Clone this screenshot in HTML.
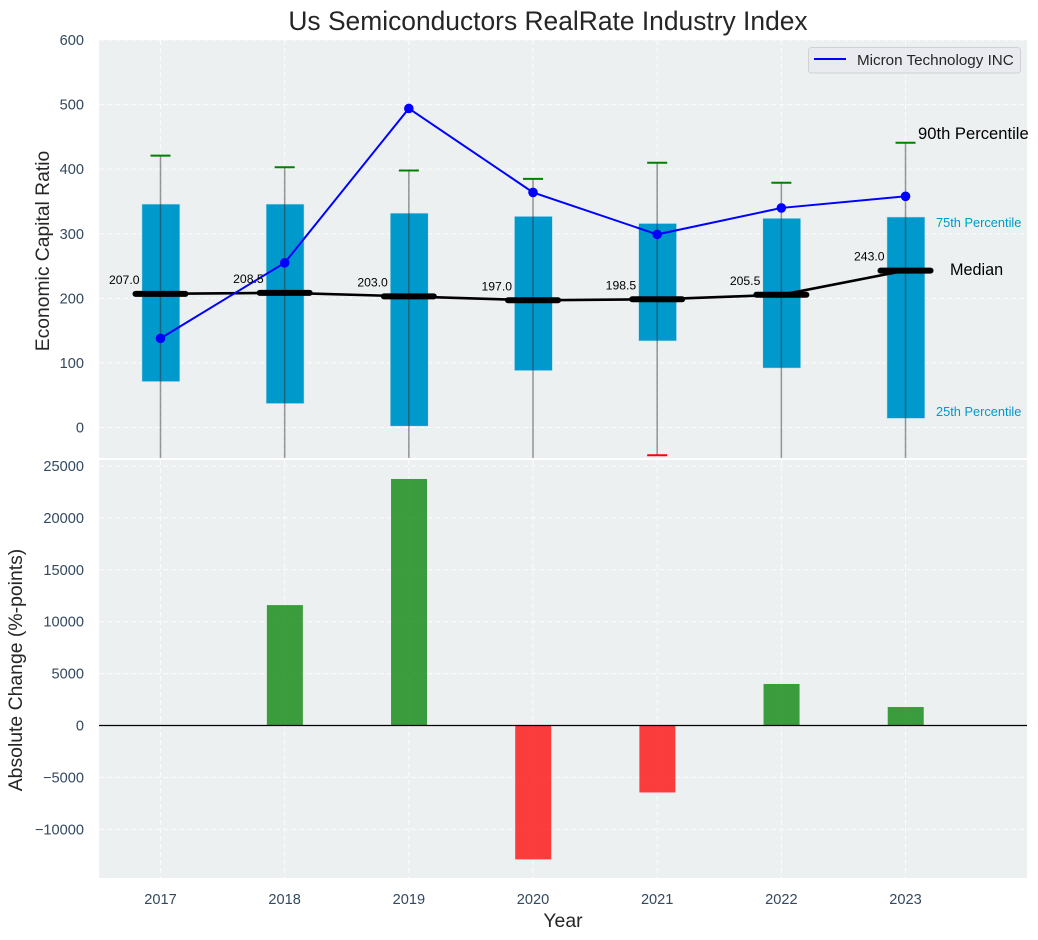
<!DOCTYPE html>
<html lang="en">
<head>
<meta charset="utf-8">
<title>Us Semiconductors RealRate Industry Index</title>
<style>
html,body{margin:0;padding:0;background:#fff;width:1038px;height:940px;overflow:hidden}
svg{display:block;font-family:"Liberation Sans",Arial,sans-serif}
</style>
</head>
<body>
<svg id="chart" xmlns="http://www.w3.org/2000/svg" width="1038" height="940" viewBox="0 0 1038 940">
  <defs>
    <clipPath id="top-clip"><rect x="99" y="40" width="928" height="418"/></clipPath>
    <clipPath id="bottom-clip"><rect x="99" y="460" width="928" height="418"/></clipPath>
  </defs>
  <rect x="99" y="40" width="928" height="418" fill="#ecf0f1"/>
  <rect x="99" y="460" width="928" height="418" fill="#ecf0f1"/>
  <g id="grid"></g>
  <g id="top-marks" clip-path="url(#top-clip)"></g>
  <g id="bottom-marks" clip-path="url(#bottom-clip)"></g>
  <g id="tick-labels" font-size="14.6" fill="#34495e"></g>
  <text x="548" y="30" text-anchor="middle" font-size="26.4" fill="#262626">Us Semiconductors RealRate Industry Index</text>
  <text transform="translate(49,251) rotate(-90)" text-anchor="middle" font-size="19.3" fill="#262626">Economic Capital Ratio</text>
  <text transform="translate(22,670) rotate(-90)" text-anchor="middle" font-size="19.4" fill="#262626">Absolute Change (%-points)</text>
  <text x="563" y="927" text-anchor="middle" font-size="19.4" fill="#262626">Year</text>
  <text x="918" y="139" font-size="16.6" fill="#000">90th Percentile</text>
  <text x="936" y="227" font-size="12.8" fill="#0099cc">75th Percentile</text>
  <text x="950" y="275" font-size="16.2" fill="#000">Median</text>
  <text x="936" y="416" font-size="12.8" fill="#0099cc">25th Percentile</text>
  <g>
    <rect x="808.5" y="47.5" width="212" height="25.5" rx="3" fill="#e9ebf0" stroke="#cfd1d4" stroke-width="1"/>
    <line x1="814" x2="846" y1="59" y2="59" stroke="#0000ff" stroke-width="2"/>
    <text x="857" y="65" font-size="15.2" fill="#262626">Micron Technology INC</text>
  </g>
</svg>
<script>
const years = [2017, 2018, 2019, 2020, 2021, 2022, 2023];
const p90 = [421, 403, 398, 385, 410, 379, 441];
const p75 = [346, 346, 332, 327, 316, 324, 326];
const medians = [207, 208.5, 203, 197, 198.5, 205.5, 243];
const p25 = [71, 37, 2, 88, 134, 92, 14];
const p10 = [-90, -110, -80, -70, -43, -90, -100];
const micron = [138, 255, 494, 364, 299, 340, 358];
const changes = [0, 11600, 23750, -12900, -6450, 4000, 1780];
const topTicks = [0, 100, 200, 300, 400, 500, 600];
const bottomTicks = [-10000, -5000, 0, 5000, 10000, 15000, 20000, 25000];

const NS = 'http://www.w3.org/2000/svg';
const xScale = function (year) { return 160.5 + (year - 2017) * 124.17; };
const yTop = function (v) { return 427.5 - v * 0.6458; };
const yBottom = function (v) { return 725.5 - v * 0.01038; };

function make(parent, tag, attrs, name) {
  const el = document.createElementNS(NS, tag);
  for (const k in attrs) el.setAttribute(k, attrs[k]);
  
  
  parent.appendChild(el);
  return el;
}

const grid = document.getElementById('grid');
const topMarks = document.getElementById('top-marks');
const bottomMarks = document.getElementById('bottom-marks');
const labels = document.getElementById('tick-labels');
const gridStyle = { stroke: '#ffffff', 'stroke-width': 1, 'stroke-dasharray': '5 3', opacity: 0.85 };

years.forEach(function (yr) {
  const x = xScale(yr);
  make(grid, 'line', Object.assign({ x1: x, x2: x, y1: 40, y2: 458 }, gridStyle), 'top-x-grid-' + yr);
  make(grid, 'line', Object.assign({ x1: x, x2: x, y1: 460, y2: 878 }, gridStyle), 'bottom-x-grid-' + yr);
  const t = make(labels, 'text', { x: x, y: 904, 'text-anchor': 'middle' }, 'x-tick-' + yr);
  t.textContent = String(yr);
});
topTicks.forEach(function (v) {
  const y = yTop(v);
  make(grid, 'line', Object.assign({ x1: 99, x2: 1027, y1: y, y2: y }, gridStyle), 'top-y-grid-' + v);
  const t = make(labels, 'text', { x: 84, y: y + 5, 'text-anchor': 'end' }, 'top-y-tick-' + v);
  t.textContent = String(v);
});
bottomTicks.forEach(function (v) {
  const y = yBottom(v);
  make(grid, 'line', Object.assign({ x1: 99, x2: 1027, y1: y, y2: y }, gridStyle), 'bottom-y-grid-' + v);
  const t = make(labels, 'text', { x: 84, y: y + 5, 'text-anchor': 'end' }, 'bottom-y-tick-' + v);
  t.textContent = String(v).replace('-', '\u2212');
});

years.forEach(function (yr, i) {
  const x = xScale(yr);
  const yHi = yTop(p75[i]);
  const yLo = yTop(p25[i]);
  make(topMarks, 'rect', { x: x - 18.6, y: yHi, width: 38, height: yLo - yHi, fill: '#0099cc', stroke: '#cfe6ef', 'stroke-width': 0.6 }, 'iqr-bar-' + yr);
});
years.forEach(function (yr, i) {
  const x = xScale(yr);
  make(topMarks, 'line', { x1: x, x2: x, y1: yTop(p90[i]), y2: yTop(p10[i]), stroke: '#333333', 'stroke-opacity': 0.5, 'stroke-width': 1.5 }, 'whisker-' + yr);
  make(topMarks, 'line', { x1: x - 10, x2: x + 10, y1: yTop(p90[i]), y2: yTop(p90[i]), stroke: '#008000', 'stroke-width': 2 }, 'cap-90th-' + yr);
  make(topMarks, 'line', { x1: x - 10, x2: x + 10, y1: yTop(p10[i]), y2: yTop(p10[i]), stroke: '#ff0000', 'stroke-width': 2 }, 'cap-10th-' + yr);
});

const medianPoints = years.map(function (yr, i) { return xScale(yr) + ',' + yTop(medians[i]); }).join(' ');
make(topMarks, 'polyline', { points: medianPoints, fill: 'none', stroke: '#000000', 'stroke-width': 2.6 }, 'median-line');
years.forEach(function (yr, i) {
  const x = xScale(yr);
  const y = yTop(medians[i]);
  make(topMarks, 'line', { x1: x - 25, x2: x + 25, y1: y, y2: y, stroke: '#000000', 'stroke-width': 6, 'stroke-linecap': 'round' }, 'median-marker-' + yr);
});

const micronPoints = years.map(function (yr, i) { return xScale(yr) + ',' + yTop(micron[i]); }).join(' ');
make(topMarks, 'polyline', { points: micronPoints, fill: 'none', stroke: '#0000ff', 'stroke-width': 2 }, 'micron-line');
years.forEach(function (yr, i) {
  make(topMarks, 'circle', { cx: xScale(yr), cy: yTop(micron[i]), r: 4.8, fill: '#0000ff' }, 'micron-point-' + yr);
});
years.forEach(function (yr, i) {
  const t = make(topMarks, 'text', { x: xScale(yr) - 21, y: yTop(medians[i]) - 10, 'text-anchor': 'end', 'font-size': 12.2, fill: '#000000' }, 'median-value-' + yr);
  t.textContent = medians[i].toFixed(1);
});

years.forEach(function (yr, i) {
  const x = xScale(yr);
  const v = changes[i];
  if (v === 0) return;
  const y0 = yBottom(0);
  const y1 = yBottom(v);
  make(bottomMarks, 'rect', { x: x - 17.8, y: Math.min(y0, y1), width: 36, height: Math.abs(y1 - y0), fill: v > 0 ? '#008000' : '#ff0000', 'fill-opacity': 0.75 }, 'change-bar-' + yr);
});
make(bottomMarks, 'line', { x1: 99, x2: 1027, y1: yBottom(0), y2: yBottom(0), stroke: '#000000', 'stroke-width': 1.2 }, 'zero-line');
</script>
</body>
</html>
